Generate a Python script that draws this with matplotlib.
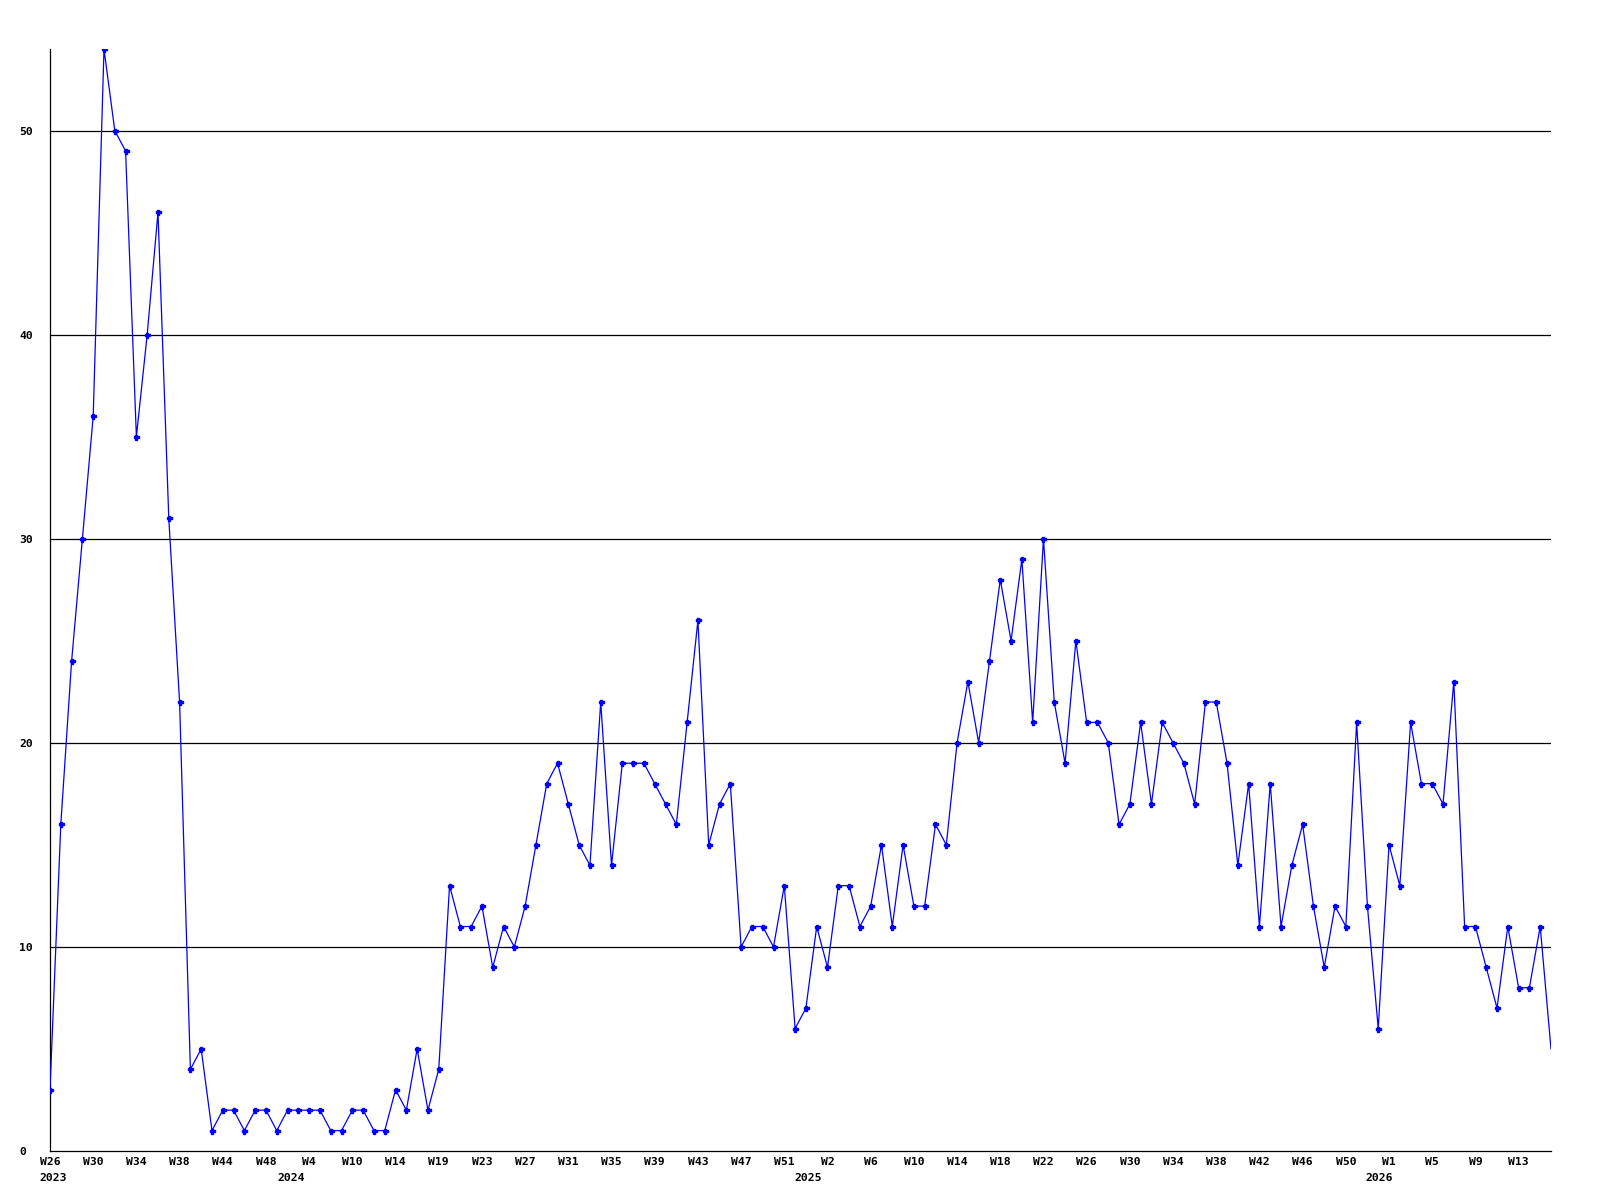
import numpy as np
import matplotlib
matplotlib.use("Agg")
import matplotlib.pyplot as plt

# weekly counts, W26 2023 .. W15 2026
values = [
    3, 16, 24, 30, 36, 54, 50, 49, 35, 40, 46, 31, 22, 4, 5,
    1, 2, 2, 1, 2, 2, 1, 2, 2, 2, 2, 1, 1, 2, 2, 1, 1, 3, 2, 5, 2, 4,
    13, 11, 11, 12, 9, 11, 10, 12, 15, 18, 19, 17, 15, 14, 22, 14, 19, 19, 19, 18,
    17, 16, 21, 26, 15, 17, 18, 10, 11, 11, 10,
    13, 6, 7, 11, 9, 13, 13, 11, 12, 15, 11, 15, 12, 12, 16, 15, 20, 23, 20, 24,
    28, 25, 29, 21, 30, 22, 19, 25, 21, 21, 20, 16, 17, 21, 17, 21,
    20, 19, 17, 22, 22, 19, 14, 18, 11, 18, 11, 14, 16, 12, 9, 12, 11, 21, 12, 6,
    15, 13, 21, 18, 18, 17, 23, 11, 11, 9, 7, 11, 8, 8, 11, 5,
]

# one label every 4th point
week_labels = [
    "W26", "W30", "W34", "W38", "W44", "W48", "W4", "W10", "W14", "W19",
    "W23", "W27", "W31", "W35", "W39", "W43", "W47", "W51", "W2", "W6",
    "W10", "W14", "W18", "W22", "W26", "W30", "W34", "W38", "W42", "W46",
    "W50", "W1", "W5", "W9", "W13",
]
years = ["2023", "2024", "2025", "2026"]
year_at = [0.3, 22.3, 70.2, 123.1]  # x position (point index) of the year text

y_ticks = [0, 10, 20, 30, 40, 50]

font = dict(family="DejaVu Sans Mono", weight="bold", size=8.2)

fig = plt.figure(figsize=(16, 12), dpi=100)
ax = fig.add_axes([50 / 1600, 1 - 1151 / 1200, 1501 / 1600, 1102 / 1200])

x = np.arange(len(values))

# horizontal grid lines
for yv in y_ticks[1:]:
    ax.axhline(yv, color="black", lw=0.9, zorder=1)

ax.plot(x, values, color="#0000ff", lw=0.9, marker="P", ms=3.6,
        markevery=list(range(len(values) - 1)), zorder=3)

ax.set_xlim(0, len(values) - 1)
ax.set_ylim(0, max(values))

for side in ["top", "right"]:
    ax.spines[side].set_visible(False)
for side in ["left", "bottom"]:
    ax.spines[side].set_linewidth(0.9)
    ax.spines[side].set_color("black")

ax.set_yticks(y_ticks)
ax.set_yticklabels([str(v) for v in y_ticks], fontdict=font)
for lab in ax.get_yticklabels():
    lab.set_horizontalalignment("left")
ax.tick_params(axis="y", length=0, pad=22.3)

ax.set_xticks(np.arange(0, len(values), 4))
ax.set_xticklabels(week_labels, fontdict=font)
ax.tick_params(axis="x", length=0, pad=4.5)

for yr, pos in zip(years, year_at):
    ax.annotate(yr, xy=(pos, 0), xycoords=("data", "axes fraction"),
                xytext=(0, -19.3), textcoords="offset points",
                ha="center", va="center", **font)

fig.savefig("out.png", dpi=100)
